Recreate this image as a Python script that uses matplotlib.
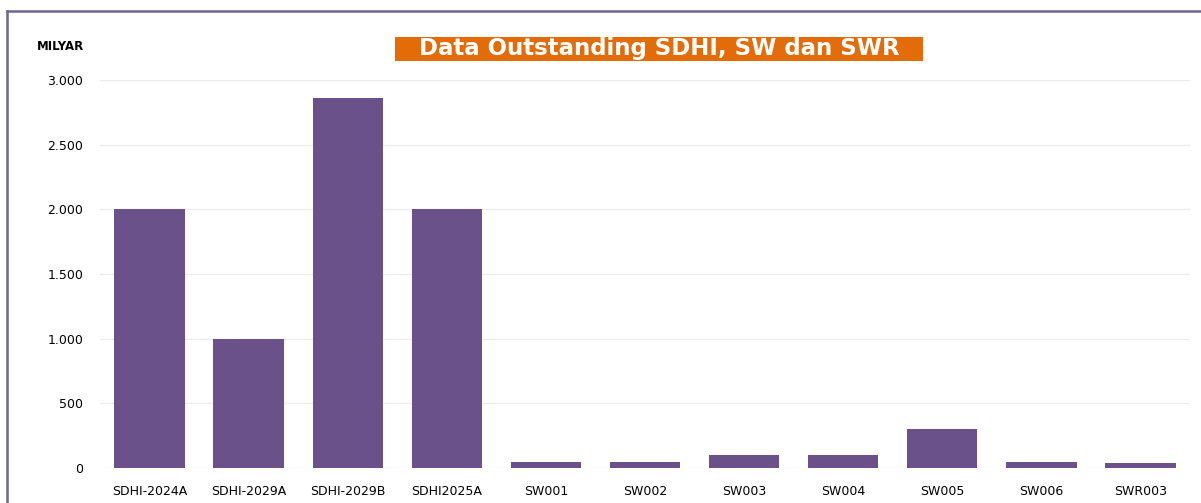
import matplotlib
matplotlib.use("Agg")
import matplotlib.pyplot as plt
from matplotlib.lines import Line2D
from matplotlib.patches import Rectangle
from matplotlib.ticker import FuncFormatter

categories = ["SDHI-2024A", "SDHI-2029A", "SDHI-2029B", "SDHI2025A", "SW001", "SW002",
              "SW003", "SW004", "SW005", "SW006", "SWR003"]
values = [2000, 1000, 2860, 2000, 50, 50, 100, 100, 300, 50, 40]
yticks = [0, 500, 1000, 1500, 2000, 2500, 3000]

W, H = 1201, 503
fig = plt.figure(figsize=(W / 100, H / 100), dpi=100)
ax = fig.add_axes([100 / W, 1 - 468 / H, 1090 / W, (468 - 80) / H])

x = list(range(len(categories)))
ax.bar(x, values, width=0.71, color="#6A5189", zorder=3)
ax.set_xlim(-0.5, len(categories) - 0.5)
ax.set_ylim(0, 3000)
ax.set_yticks(yticks)
ax.yaxis.set_major_formatter(FuncFormatter(lambda v, p: f"{int(v):,}".replace(",", ".")))
ax.set_xticks(x)
ax.set_xticklabels(categories)
ax.grid(axis="y", color="#ECECEC", linewidth=1, zorder=0)
for s in ax.spines.values():
    s.set_visible(False)
ax.tick_params(axis="both", length=0, labelsize=9, colors="black")
ax.tick_params(axis="x", pad=12)
ax.tick_params(axis="y", pad=12)

fig.text(37 / W, 1 - 47 / H, "MILYAR", fontsize=8.5, fontweight="bold", va="center", ha="left")
fig.add_artist(Rectangle((395 / W, 1 - 61 / H), 528 / W, 24 / H, transform=fig.transFigure,
                         facecolor="#E36C09", edgecolor="none"))
fig.text(659 / W, 1 - 49 / H, "Data Outstanding SDHI, SW dan SWR", fontsize=16.5,
         fontweight="bold", color="white", ha="center", va="center")

# outer frame (top and left edges)
fig.add_artist(Line2D([7 / W, 1.0], [1 - 11 / H, 1 - 11 / H], transform=fig.transFigure,
                      color="#6E6690", linewidth=1.8))
fig.add_artist(Line2D([7 / W, 7 / W], [0, 1 - 11 / H], transform=fig.transFigure,
                      color="#6E6690", linewidth=1.8))

fig.savefig("out.png", dpi=100)
